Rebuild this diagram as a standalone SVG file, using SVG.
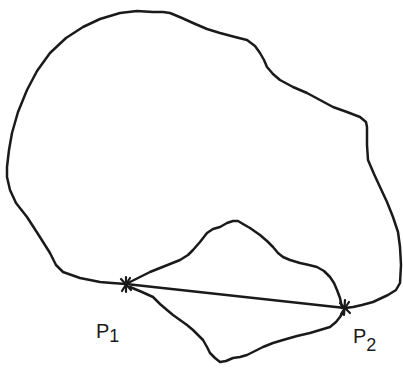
<svg xmlns="http://www.w3.org/2000/svg" width="403" height="373" viewBox="0 0 403 373">
<style>
.c{fill:none;stroke:#1a1a1a;stroke-width:2.5;stroke-linejoin:round;stroke-linecap:round}
.x{stroke:#1a1a1a;stroke-width:2.2;stroke-linecap:round}
.t{font-family:"Liberation Sans",Arial,sans-serif;fill:#1a1a1a;font-size:20px}
</style>
<rect width="403" height="373" fill="#fff"/>
<g id="curves">
<path id="outer" class="c" d="M126,284 L112,283 L100,282 L80,278 L63,272 L56,265 L50,253 L38,234 L27,217 L16,203 L10,190 L7,177 L7,167 L9,150 L12,133 L18,112 L27,90 L37,71 L50,53 L66,38 L83,27 L100,19 L120,13 L137,11 L153,12 L163,12 L170,13 L182,18 L193,23 L207,29 L220,33 L235,37 L247,40 L255,46 L260,53 L264,60 L267,67 L273,74 L280,80 L293,87 L307,93 L320,100 L333,107 L347,112 L360,117 L366,122 L367,127 L367,145 L368,160 L374,174 L380,187 L387,202 L393,217 L398,232 L400,247 L401,265 L400,283 L396,290 L388,295 L373,302 L362,305 L353,307 L345,308"/>
<path id="upper-loop" class="c" d="M126,284 L138,278 L150,272 L165,266 L180,260 L188,255 L193,250 L200,242 L207,233 L213,229 L220,227 L227,223 L233,221 L238,221 L243,224 L250,228 L260,235 L267,241 L273,247 L278,253 L283,257 L290,260 L300,263 L309,265 L317,267 L324,271 L330,277 L334,283 L337,290 L340,298 L342,308"/>
<path id="lower-loop" class="c" d="M130,287 L142,292 L153,297 L160,304 L167,310 L173,315 L180,320 L187,325 L193,330 L198,335 L203,340 L207,347 L210,353 L215,358 L220,362 L226,361 L233,358 L240,357 L247,355 L255,351 L263,347 L273,343 L283,340 L297,336 L310,333 L320,330 L330,327 L336,322 L340,317 L343,312 L345,308"/>
<line id="chord" class="c" x1="126" y1="284" x2="345" y2="308"/>
</g>
<g id="P1">
<line class="x" x1="121" y1="279" x2="131" y2="290"/>
<line class="x" x1="122" y1="291" x2="130" y2="278"/>
<line class="x" x1="126" y1="277" x2="126" y2="292"/>
<text class="t" x="96" y="338">P<tspan font-size="18" dy="4">1</tspan></text>
</g>
<g id="P2">
<line class="x" x1="340" y1="303" x2="350" y2="313"/>
<line class="x" x1="341" y1="314" x2="349" y2="302"/>
<line class="x" x1="345" y1="300" x2="344" y2="315"/>
<text class="t" x="353" y="343">P<tspan font-size="18" dy="8">2</tspan></text>
</g>
</svg>
